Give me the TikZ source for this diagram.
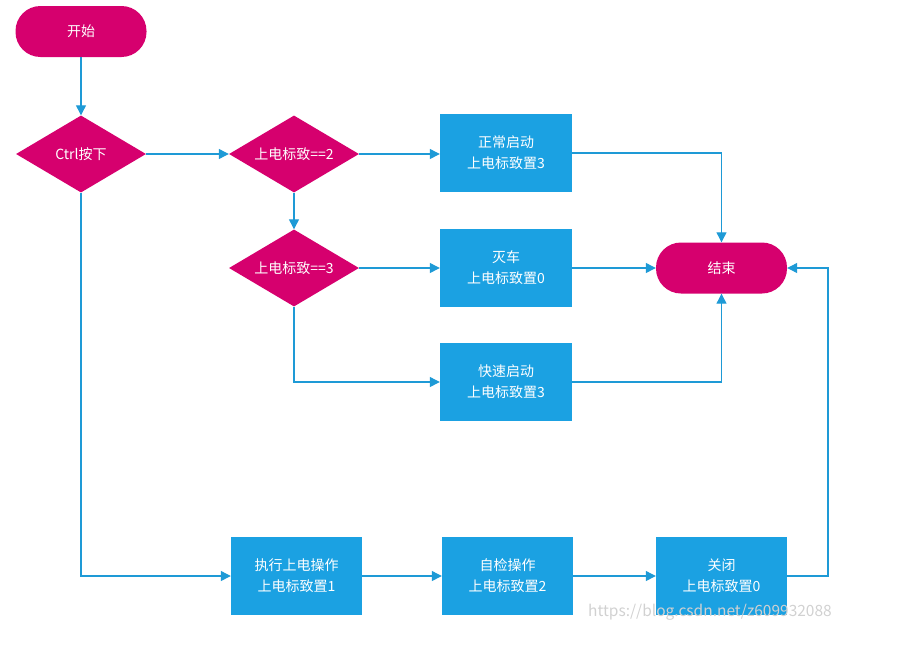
\documentclass[tikz,border=0pt]{standalone}
\usepackage{fontspec}
\setmainfont{Noto Sans CJK SC}
\usetikzlibrary{shapes.geometric,arrows.meta}
\definecolor{mag}{HTML}{D6006E}
\definecolor{blu}{HTML}{1BA1E2}
\definecolor{lin}{HTML}{1E9AD6}
\begin{document}
\begin{tikzpicture}[x=1pt,y=-1pt,
  txt/.style={text=white, align=center, font=\fontsize{14}{21}\selectfont},
  term/.style={txt, rectangle, rounded corners=25pt, fill=mag, minimum width=131pt, minimum height=51pt, inner sep=0pt},
  dec/.style={txt, diamond, aspect=1.69, fill=mag, minimum width=130pt, minimum height=77pt, inner sep=0pt},
  proc/.style={txt, rectangle, fill=blu, minimum width=132pt, minimum height=78pt, inner sep=0pt},
  conn/.style={draw=lin, line width=1.2pt, -{Triangle[length=10pt,width=10pt]}},
  wm/.style={text=black!18, font=\fontsize{15.5}{18}\selectfont}
]
\useasboundingbox (0,0) rectangle (915,656);
\node[term] (start) at (81,31.5) {开始};
\node[dec] (ctrl) at (81,154) {Ctrl按下};
\node[dec] (c2) at (294,154) {上电标致==2};
\node[dec] (c3) at (294,268) {上电标致==3};
\node[proc] (b1) at (506,153) {正常启动\\上电标致置3};
\node[proc] (b2) at (506,268) {灭车\\上电标致置0};
\node[proc] (b3) at (506,382) {快速启动\\上电标致置3};
\node[term] (end) at (721.5,268) {结束};
\node[proc, minimum width=131pt] (exec) at (296.5,576) {执行上电操作\\上电标致置1};
\node[proc, minimum width=131pt] (chk) at (507.5,576) {自检操作\\上电标致置2};
\node[proc, minimum width=131pt] (close) at (721.5,576) {关闭\\上电标致置0};
\coordinate (r) at (828,576);
\node[wm] (mark) at (710,612) {https://blog.csdn.net/z609932088};

\draw[conn] (start) -- (ctrl);
\draw[conn] (ctrl.east) -- (c2.west);
\draw[conn] (c2.east) -- (b1.west |- c2.east);
\draw[conn] (c2.south) -- (c3.north);
\draw[conn] (c3.east) -- (b2.west);
\draw[conn] (c3.south) |- (b3.west);
\draw[conn] (b1.east) -| (end.north);
\draw[conn] (b2.east) -- (end.west);
\draw[conn] (b3.east) -| (end.south);
\draw[conn] (ctrl.south) |- (exec.west);
\draw[conn] (exec.east) -- (chk.west);
\draw[conn] (chk.east) -- (close.west);
\draw[conn] (close.east) -- (r) |- (end.east);
\end{tikzpicture}
\end{document}
